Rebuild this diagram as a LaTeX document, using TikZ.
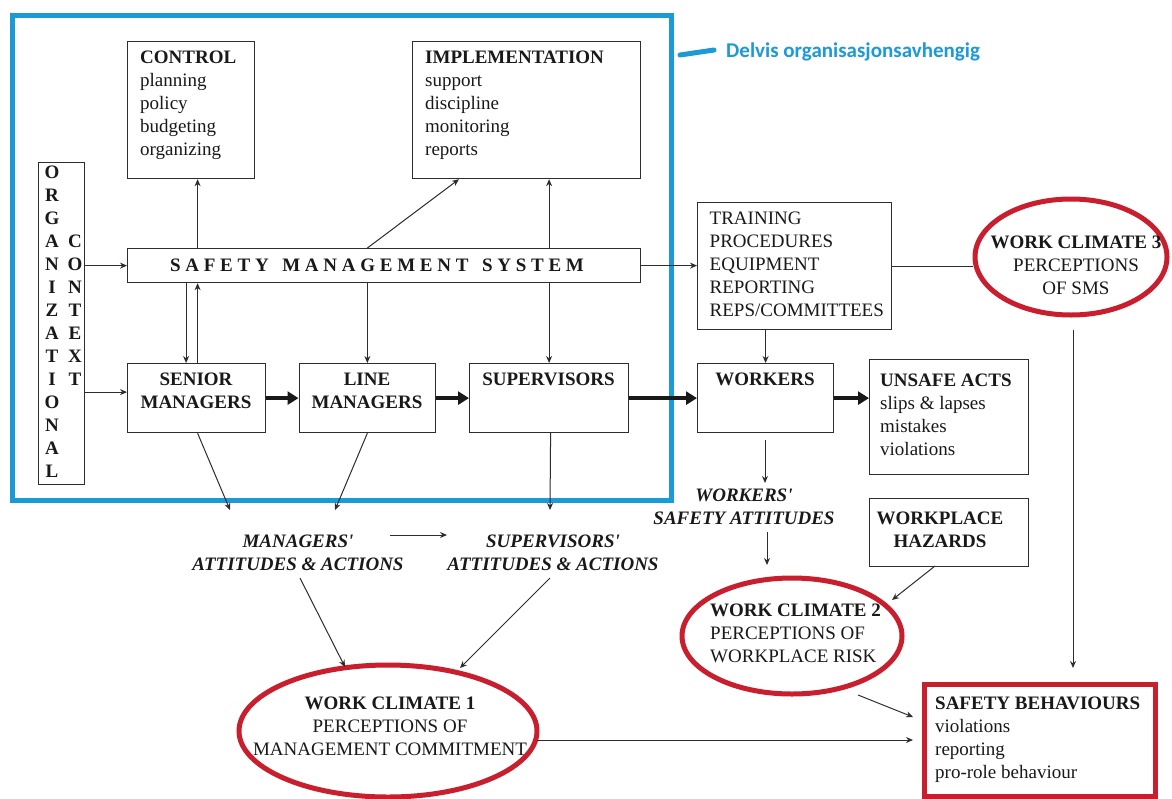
\documentclass[tikz,border=0pt]{standalone}
\usepackage{fontspec}
\setmainfont{Liberation Serif}
\newfontfamily\calib{Carlito}
\usetikzlibrary{arrows.meta,shapes.geometric,calc}
\definecolor{frameblue}{RGB}{27,154,214}
\definecolor{ovalred}{RGB}{200,30,45}
\definecolor{ink}{RGB}{25,25,25}
\definecolor{linegray}{RGB}{45,45,45}
\begin{document}
\begin{tikzpicture}[x=1pt,y=-1pt,
  every node/.style={inner sep=0pt, text=ink},
  box/.style={draw=linegray, line width=1.2pt, inner sep=0pt, anchor=north west},
  redbox/.style={draw=ovalred, line width=5pt, inner sep=0pt, anchor=north west},
  oval/.style={ellipse, draw=ovalred, line width=5pt, inner sep=0pt},
  txt/.style={font=\fontsize{19}{23}\selectfont},
  btxt/.style={font=\fontsize{19}{23}\selectfont\bfseries},
  itxt/.style={font=\fontsize{19}{23}\selectfont\bfseries\itshape, align=center},
  arr/.style={draw=linegray, line width=1pt, -{Stealth[length=7pt,width=6pt]}},
  plainline/.style={draw=linegray, line width=1pt},
  thickarr/.style={draw=ink, line width=3.5pt, -{Triangle[length=11pt,width=13pt]}}
]
\useasboundingbox (0,0) rectangle (1172,798);
\fill[white] (0,0) rectangle (1172,798);

% blue frame and label
\draw[frameblue, line width=5pt] (12,15) rectangle (671,500);
\draw[frameblue, line width=5pt, line cap=round] (680,55) -- (714,50);
\node[anchor=west, text=frameblue, font=\calib\bfseries\fontsize{21}{25}\selectfont] (blueT) at (726,52) {Delvis organisasjonsavhengig};

% boxes
\node[box, minimum width=127pt, minimum height=137pt] (control) at (127,41) {};
\node[box, minimum width=228pt, minimum height=137pt] (impl) at (412,41) {};
\node[box, minimum width=46pt, minimum height=322pt] (org) at (38,162) {};
\node[box, minimum width=513pt, minimum height=34pt] (sms) at (127,248) {};
\node[box, minimum width=138pt, minimum height=69pt] (senior) at (127,363) {};
\node[box, minimum width=136.5pt, minimum height=69pt] (line) at (298.5,363) {};
\node[box, minimum width=159pt, minimum height=69pt] (sup) at (469,363) {};
\node[box, minimum width=194pt, minimum height=127pt] (training) at (697,202) {};
\node[box, minimum width=136pt, minimum height=69pt] (workers) at (697,363) {};
\node[box, minimum width=159pt, minimum height=115pt] (unsafe) at (869,359) {};
\node[box, minimum width=159pt, minimum height=68pt] (workplace) at (869,498) {};
\node[redbox, minimum width=231pt, minimum height=112pt] (sb) at (922,682) {};

% ellipses
\node[oval, minimum width=298pt, minimum height=132pt] (wc1) at (388,731) {};
\node[oval, minimum width=220pt, minimum height=116pt] (wc2) at (792,636) {};
\node[oval, minimum width=192pt, minimum height=116pt] (wc3) at (1071,257) {};

% texts
\node[txt, align=left, anchor=north west] (controlT) at (140,50.5) {\textbf{CONTROL}\\planning\\policy\\budgeting\\organizing};
\node[txt, align=left, anchor=north west] (implT) at (425,50.5) {\textbf{IMPLEMENTATION}\\support\\discipline\\monitoring\\reports};
\node[btxt, align=center, anchor=north] (orgT1) at (52,165.5) {O\\R\\G\\A\\N\\I\\Z\\A\\T\\I\\O\\N\\A\\L};
\node[btxt, align=center, anchor=north] (orgT2) at (75,234.5) {C\\O\\N\\T\\E\\X\\T};
\node[btxt, anchor=center] (smsT) at (377,265) {\addfontfeature{LetterSpace=25}SAFETY\hspace{4pt} MANAGEMENT\hspace{4pt} SYSTEM};
\node[btxt, align=center, anchor=north] (seniorT) at (196,372.5) {SENIOR\\MANAGERS};
\node[btxt, align=center, anchor=north] (lineT) at (367,372.5) {LINE\\MANAGERS};
\node[btxt, anchor=north] (supT) at (548.5,372.5) {SUPERVISORS};
\node[btxt, anchor=north] (workersT) at (765,372.5) {WORKERS};
\node[txt, align=left, anchor=north west] (unsafeT) at (880,373.5) {\textbf{UNSAFE ACTS}\\slips \& lapses\\mistakes\\violations};
\node[txt, align=left, anchor=north west] (trainingT) at (709.5,211.5) {TRAINING\\PROCEDURES\\EQUIPMENT\\REPORTING\\REPS/COMMITTEES};
\node[btxt, align=center, anchor=north] (workplaceT) at (940,511.5) {WORKPLACE\\HAZARDS};
\node[txt, align=left, anchor=north west] (sbT) at (935,696.5) {\textbf{SAFETY BEHAVIOURS}\\violations\\reporting\\pro-role behaviour};
\node[itxt, anchor=north] (mgrT) at (298,534.5) {MANAGERS\textquotesingle\\ATTITUDES \& ACTIONS};
\node[itxt, anchor=north] (supAT) at (553,534.5) {SUPERVISORS\textquotesingle\\ATTITUDES \& ACTIONS};
\node[itxt, anchor=north] (wrkAT) at (744,488.5) {WORKERS\textquotesingle\\SAFETY ATTITUDES};
\node[txt, align=center, anchor=north] (wc1T) at (390,696.5) {\textbf{WORK CLIMATE 1}\\PERCEPTIONS OF\\MANAGEMENT COMMITMENT};
\node[txt, align=left, anchor=north west] (wc2T) at (710,603.5) {\textbf{WORK CLIMATE 2}\\PERCEPTIONS OF\\WORKPLACE RISK};
\node[txt, align=center, anchor=north] (wc3T) at (1076,235.5) {\textbf{WORK CLIMATE 3}\\PERCEPTIONS\\OF SMS};

% free-end coordinates
\coordinate (senEnd) at (230,510);
\coordinate (lineEnd) at (335,510);
\coordinate (supEnd) at (550,510);
\coordinate (mgrA) at (390,535);
\coordinate (mgrB) at (447,535);
\coordinate (mgrOut) at (300,578);
\coordinate (wc1InA) at (345,667);
\coordinate (supOut) at (550,578);
\coordinate (wc1InB) at (460,668);
\coordinate (wrkOut) at (765,440);
\coordinate (wrkIn) at (765,483);
\coordinate (waOut) at (767,532);
\coordinate (wc2InA) at (767,565);
\coordinate (hzOut) at (935,566);
\coordinate (wc2InB) at (892,600);
\coordinate (wc2Out) at (858,695);
\coordinate (sbInA) at (913,717);
\coordinate (wc1Out) at (537,740);
\coordinate (sbInB) at (913,740);

% connectors: upper part
\draw[arr] (org.east |- sms.west) -- (sms.west);
\draw[arr] ($(org.east |- senior.west)+(0,-6)$) -- ($(senior.west)+(0,-6)$);
\draw[arr] ($(senior.north |- sms.north)+(1,0)$) -- ($(senior.north |- control.south)+(1,0)$);
\draw[arr] ($(senior.north)+(1,0)$) -- ($(senior.north |- sms.south)+(1,0)$);
\draw[arr] ($(senior.north |- sms.south)+(-10.5,0)$) -- ($(senior.north)+(-10.5,0)$);
\draw[arr] (line.north |- sms.north) -- ($(impl.south west)+(47,0)$);
\draw[arr] (sup.north |- sms.north) -- (sup.north |- impl.south);
\draw[arr] (line.north |- sms.south) -- (line.north);
\draw[arr] (sup.north |- sms.south) -- (sup.north);
\draw[arr] (sms.east) -- (sms.east -| training.west);
\draw[plainline] (training.east) -- (training.east -| wc3.west);
\draw[arr] (training.south -| workers.north) -- (workers.north);
\draw[arr] ($(wc3.south)+(2,12)$) -- ($(wc3.south |- sb.north)+(2,-14)$);

% thick arrows
\draw[thickarr] (senior.east) -- (line.west);
\draw[thickarr] (line.east) -- (sup.west);
\draw[thickarr] (sup.east) -- (workers.west);
\draw[thickarr] (workers.east) -- (workers.east -| unsafe.west);

% lower part
\draw[arr] ($(senior.south)+(1,0)$) -- (senEnd);
\draw[arr] (line.south) -- (lineEnd);
\draw[arr] ($(sup.south)+(1.5,0)$) -- (supEnd);
\draw[arr] (mgrA) -- (mgrB);
\draw[arr] (mgrOut) -- (wc1InA);
\draw[arr] (supOut) -- (wc1InB);
\draw[arr] (wrkOut) -- (wrkIn);
\draw[arr] (waOut) -- (wc2InA);
\draw[arr] (hzOut) -- (wc2InB);
\draw[arr] (wc2Out) -- (sbInA);
\draw[arr] (wc1Out) -- (sbInB);
\end{tikzpicture}
\end{document}
